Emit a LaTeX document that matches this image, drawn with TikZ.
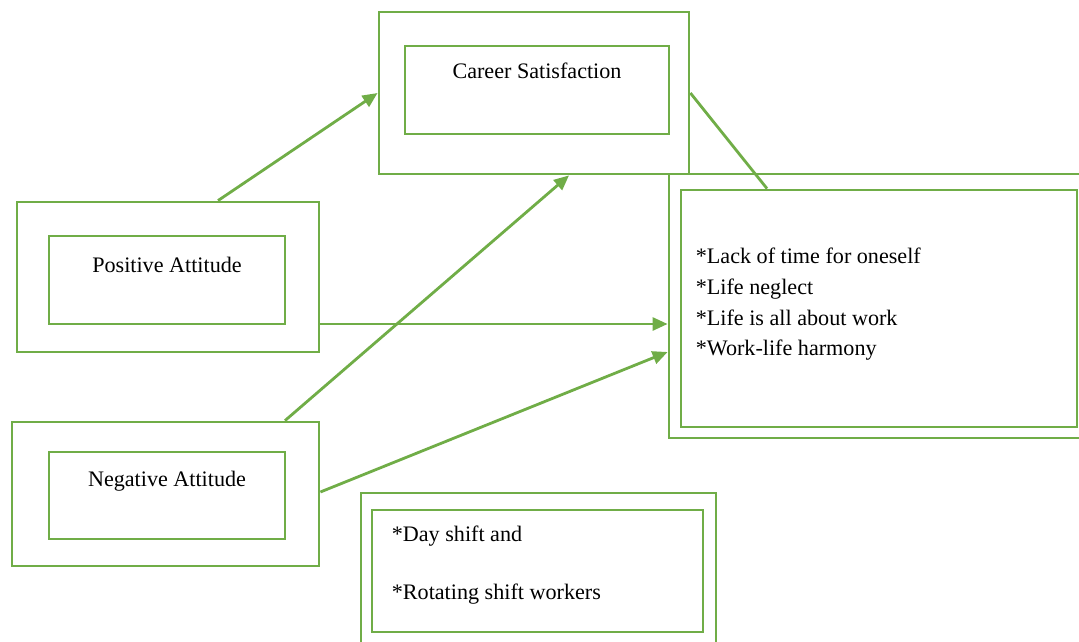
\documentclass[tikz,border=0pt]{standalone}
\usepackage{fontspec}
\setmainfont{Liberation Serif}
\usetikzlibrary{positioning,calc,arrows.meta}
\definecolor{boxgreen}{RGB}{112,173,71}
\newdimen\px
\px=0.75pt
\tikzset{
  frame/.style={draw=boxgreen, line width=2.8\px, inner sep=0pt},
  txt/.style={font=\fontsize{16.6}{23}\selectfont, inner sep=0pt, align=left},
  link/.style={draw=boxgreen, line width=2.8\px, -{Triangle[length=11.25pt,width=9.75pt]}}
}

\begin{document}
\begin{tikzpicture}[x=0.75pt, y=-0.75pt]
    \useasboundingbox (0,0) rectangle (1079,642);
    % boxes
    \node[frame, minimum width=310\px, minimum height=162\px] (csout) at (534,93) {};
    \node[frame, minimum width=264\px, minimum height=88\px] (csin) at (537,90) {};
    \node[frame, minimum width=302\px, minimum height=150\px] (posout) at (168,277) {};
    \node[frame, minimum width=236\px, minimum height=88\px] (posin) at (167,280) {};
    \node[frame, minimum width=307\px, minimum height=144\px] (negout) at (165.5,494) {};
    \node[frame, minimum width=236\px, minimum height=87\px] (negin) at (167,495.5) {};
    \node[frame, minimum width=431\px, minimum height=264\px] (resout) at (884.5,306) {};
    \node[frame, minimum width=396\px, minimum height=237\px] (resin) at (879,308.5) {};
    \node[frame, minimum width=355\px, minimum height=162\px] (shout) at (538.5,574) {};
    \node[frame, minimum width=331\px, minimum height=122\px] (shin) at (537.5,571) {};
    % texts
    \node[txt] (cstxt) at ([yshift=-26\px]csin.north) {Career Satisfaction};
    \node[txt] (postxt) at ([yshift=15\px]posin.center) {Positive Attitude};
    \node[txt] (negtxt) at ([yshift=14.5\px]negin.center) {Negative Attitude};
    \node[txt, anchor=west] (restxt) at ([xshift=16\px,yshift=4\px]resin.west)
      {*Lack of time for oneself\\*Life neglect\\*Life is all about work\\*Work-life harmony};
    \node[txt, anchor=west] (shtxt) at ([xshift=21\px,yshift=6\px]shin.west)
      {*Day shift and\\[20pt]*Rotating shift workers};
    % connectors
    \draw[link] ([xshift=50\px]posout.north) -- (csout.west);
    \draw[link] ([xshift=119.5\px]negout.north) -- ([xshift=35\px]csout.south);
    \draw[link] ([yshift=-47\px]posout.east) -- ([yshift=-18\px]resout.west);
    \draw[link] ([yshift=2\px]negout.east) -- ([yshift=-46\px]resout.west);
    \draw[boxgreen, line width=2.8\px] (csout.east) -- ([xshift=-112\px]resin.north);
\end{tikzpicture}
\end{document}
